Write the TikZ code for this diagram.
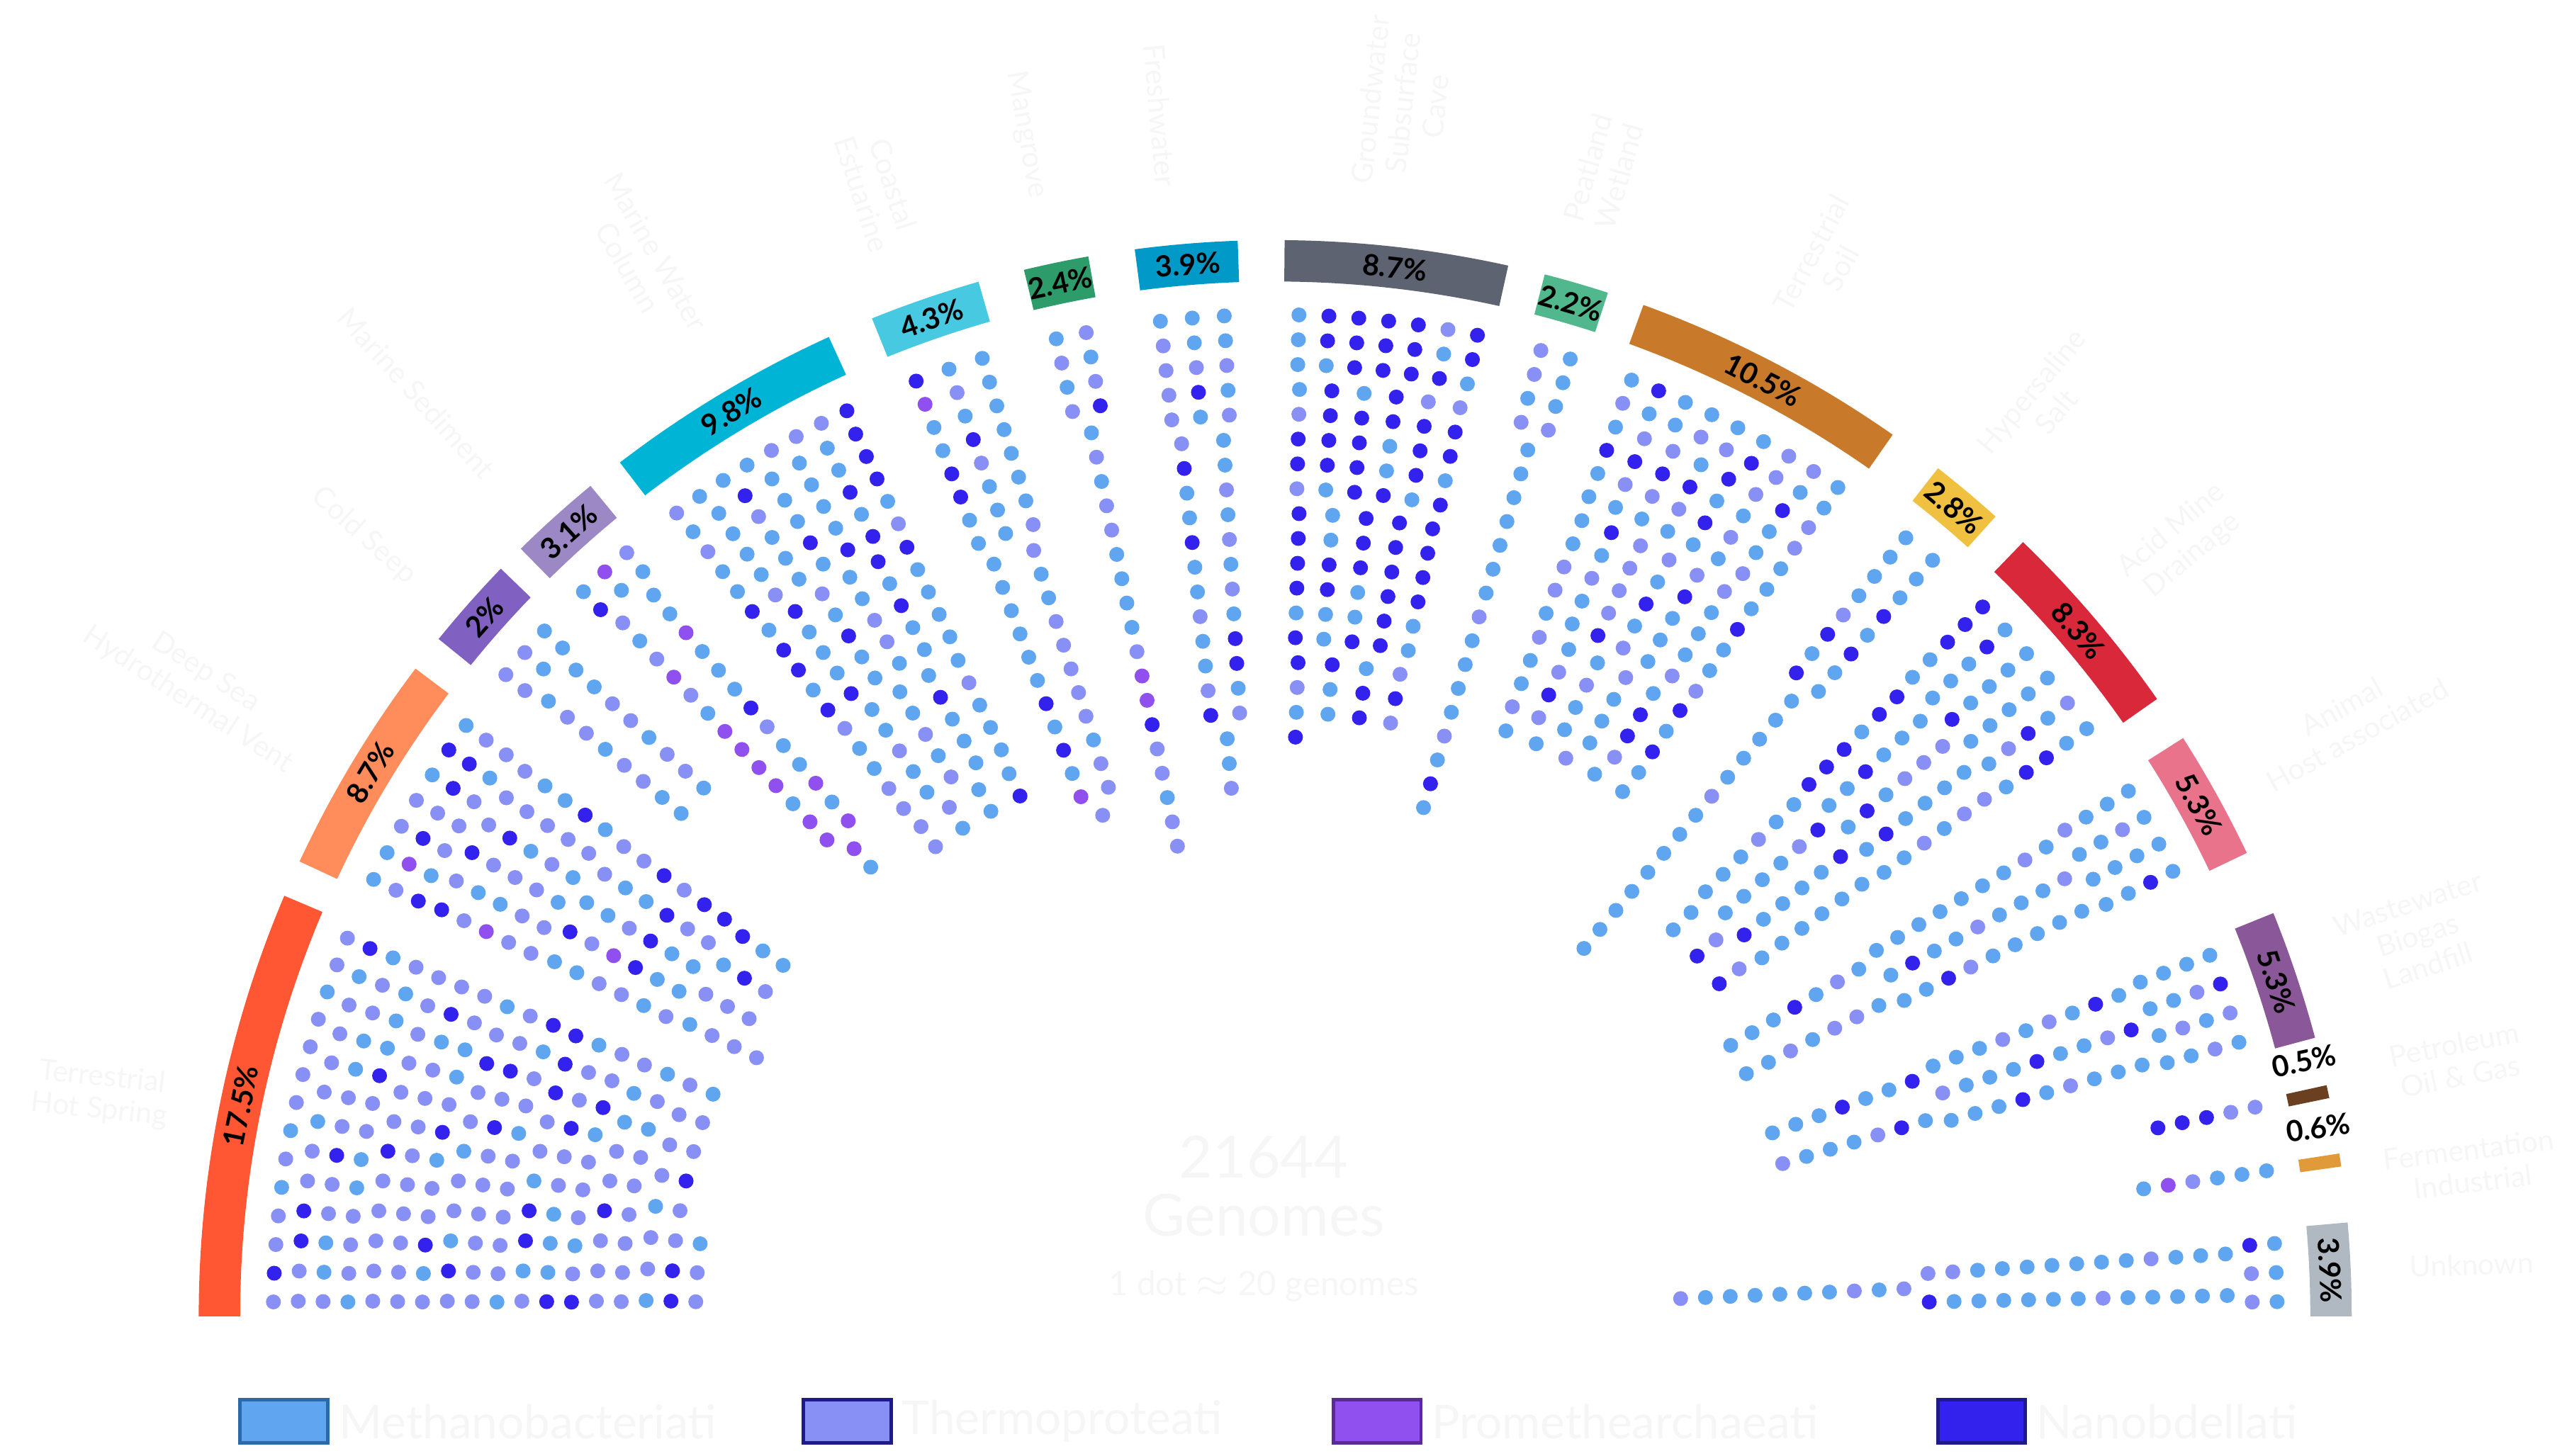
\documentclass[tikz,border=0pt]{standalone}
\usepackage{fontspec}
\setmainfont{Lato}
\usetikzlibrary{positioning}
\definecolor{mbac}{HTML}{60A5F0}
\definecolor{tpro}{HTML}{8890F5}
\definecolor{pmar}{HTML}{9050F0}
\definecolor{nano}{HTML}{3322EE}
\definecolor{mbacEdge}{HTML}{2A6AAA}
\definecolor{tproEdge}{HTML}{1F1A8A}
\definecolor{pmarEdge}{HTML}{5A2A9A}
\definecolor{nanoEdge}{HTML}{1F1A8A}
\definecolor{hotspring}{HTML}{FF5733}
\definecolor{deepsea}{HTML}{FF8C5A}
\definecolor{coldseep}{HTML}{8060C0}
\definecolor{marsed}{HTML}{9C88C4}
\definecolor{marwat}{HTML}{00B4D6}
\definecolor{coastal}{HTML}{48C9E2}
\definecolor{mangrove}{HTML}{2E9C6A}
\definecolor{fresh}{HTML}{0099C8}
\definecolor{ground}{HTML}{5E6372}
\definecolor{peat}{HTML}{50B88C}
\definecolor{soil}{HTML}{C87A2A}
\definecolor{hyper}{HTML}{F0C040}
\definecolor{amd}{HTML}{D8283A}
\definecolor{animal}{HTML}{E8738A}
\definecolor{waste}{HTML}{8A5898}
\definecolor{petro}{HTML}{6A4020}
\definecolor{ferment}{HTML}{E09A3A}
\definecolor{unknown}{HTML}{B0B8C2}
\definecolor{faint}{HTML}{F6F6F6}
\tikzstyle{pctLabel} = [font=\fontsize{5}{6}\selectfont\bfseries, inner sep=0pt]
\tikzstyle{envLabel} = [font=\fontsize{5}{5.6}\selectfont, text=faint, align=center, inner sep=0pt]
\tikzstyle{legendBox} = [minimum width=0.53cm, minimum height=0.26cm, line width=0.6pt]
\tikzstyle{legendText} = [font=\fontsize{8}{9}\selectfont, text=faint, anchor=west, inner sep=0pt]
\newcount\dotsleft

\begin{document}
\begin{tikzpicture}
\useasboundingbox (0,0) rectangle (15.5,8.79);
\pgfmathsetseed{11}
\begin{scope}[shift={(7.7,0.84)}]
\foreach \aa/\ab/\nd/\ca/\cb/\cc/\bcol/\pct [count=\g] in {
  180/157/189/.2/.8/.8/hotspring/17.5,
  155/143/94/.35/.75/.8/deepsea/8.7,
  141/136/22/.5/1/1/coldseep/2,
  134.5/129.5/34/.3/.5/.8/marsed/3.1,
  127.5/114.5/106/.6/.8/.82/marwat/9.8,
  112/106/47/.45/.8/.85/coastal/4.3,
  103.5/100/26/.35/.65/.9/mangrove/2.4,
  97.5/92/42/.5/.8/.82/fresh/3.9,
  89.5/77.5/94/.25/.35/.35/ground/8.7,
  75.5/72/24/.6/.95/.95/peat/2.2,
  70/55/114/.45/.85/.85/soil/10.5,
  52/48/30/.8/.85/.85/hyper/2.8,
  46/35/90/.55/.65/.65/amd/8.3,
  32.5/25.5/57/.75/.95/.95/animal/5.3,
  22/15/57/.7/.85/.85/waste/5.3,
  12.4/11.7/5/0/.6/.6/petro/0.5,
  8.7/8/6/.5/.8/1/ferment/0.6,
  5/0/42/.65/.9/.9/unknown/3.9}{
  % dots, filled row by row from the outside
  \global\dotsleft=\nd\relax
  \foreach \row in {0,...,34}{
    \ifnum\dotsleft>0
      \pgfmathsetmacro\rr{6.05-0.15*\row}
      \pgfmathtruncatemacro\nrow{max(1,floor((\aa-\ab)*pi/180*\rr/0.17))}
      \foreach \k in {1,...,\nrow}{
        \ifnum\dotsleft>0
          \pgfmathsetmacro\ang{\aa-(\aa-\ab)*(\k-0.5)/\nrow}
          \pgfmathsetmacro\u{rnd}
          \pgfmathtruncatemacro\ci{\u<\ca ? 1 : (\u<\cb ? 2 : (\u<\cc ? 3 : 4))}
          \edef\dotcol{\ifcase\ci\or mbac\or tpro\or pmar\else nano\fi}
          \fill[\dotcol] (\ang:\rr) circle (0.045);
          \global\advance\dotsleft by -1
        \fi}
    \fi}
  % bar and its share
  \fill[\bcol] (\aa:6.25) arc[start angle=\aa, end angle=\ab, radius=6.25]
    -- (\ab:6.5) arc[start angle=\ab, end angle=\aa, radius=6.5] -- cycle;
  \pgfmathsetmacro\mid{(\aa+\ab)/2}
  \pgfmathsetmacro\wide{\aa-\ab}
  \ifdim\wide pt<1pt
    \node[pctLabel, rotate=\mid] (pct\g) at (\mid+1.9:6.4) {\pct\%};
  \else
    \node[pctLabel, rotate=\mid-90] (pct\g) at (\mid:6.375) {\pct\%};
  \fi
}
% environments
\node[envLabel, anchor=east, rotate=-6] (hot) at (169:6.8) {Terrestrial\\Hot Spring};
\node[envLabel, anchor=east, rotate=-33] (vent) at (150:6.8) {Deep Sea\\Hydrothermal Vent};
\node[envLabel, anchor=east, rotate=-42] (seep) at (139.5:6.85) {Cold Seep};
\node[envLabel, anchor=east, rotate=-48] (sed) at (133:6.95) {Marine Sediment};
\node[envLabel, anchor=east, rotate=-60] (water) at (121:6.9) {Marine Water\\Column};
\node[envLabel, anchor=east, rotate=-72] (coast) at (109.5:6.85) {Coastal\\Estuarine};
\node[envLabel, anchor=east, rotate=-80] (mangr) at (102:6.9) {Mangrove};
\node[envLabel, anchor=east, rotate=-85] (freshw) at (95.5:6.85) {Freshwater};
\node[envLabel, anchor=west, rotate=84] (groundw) at (84:6.85) {Groundwater\\Subsurface\\Cave};
\node[envLabel, anchor=west, rotate=74] (peatl) at (74:6.85) {Peatland\\Wetland};
\node[envLabel, anchor=west, rotate=62] (soill) at (62.5:6.8) {Terrestrial\\Soil};
\node[envLabel, anchor=west, rotate=50] (hypers) at (50:6.75) {Hypersaline\\Salt};
\node[envLabel, anchor=west, rotate=40] (mine) at (40.5:6.8) {Acid Mine\\Drainage};
\node[envLabel, anchor=west, rotate=29] (host) at (29:6.8) {Animal\\Host associated};
\node[envLabel, anchor=west, rotate=18] (wwater) at (18.5:6.8) {Wastewater\\Biogas\\Landfill};
\node[envLabel, anchor=west, rotate=11] (oil) at (12.3:6.9) {Petroleum\\Oil \& Gas};
\node[envLabel, anchor=west, rotate=7] (ferm) at (7.2:6.75) {Fermentation\\Industrial};
\node[envLabel, anchor=west, rotate=2] (unk) at (2.5:6.85) {Unknown};
\end{scope}
% centre
\node[font=\fontsize{10}{11}\selectfont, text=faint, inner sep=0pt] (total) at (7.63,1.8) {21644};
\node[font=\fontsize{10}{11}\selectfont, text=faint, inner sep=0pt] (genomes) at (7.63,1.45) {Genomes};
\node[font=\fontsize{5.8}{7}\selectfont, text=faint, inner sep=0pt] (scale) at (7.63,1.02) {1 dot $\approx$ 20 genomes};
% legend
\node[legendBox, fill=mbac, draw=mbacEdge] (lgM) at (1.715,0.205) {};
\node[legendText, right=0.05 of lgM] (lgMt) {Methanobacteriati};
\node[legendBox, fill=tpro, draw=tproEdge] (lgT) at (5.115,0.205) {};
\node[legendText, right=0.05 of lgT] (lgTt) {Thermoproteati};
\node[legendBox, fill=pmar, draw=pmarEdge] (lgP) at (8.315,0.205) {};
\node[legendText, right=0.05 of lgP] (lgPt) {Promethearchaeati};
\node[legendBox, fill=nano, draw=nanoEdge] (lgN) at (11.965,0.205) {};
\node[legendText, right=0.05 of lgN] (lgNt) {Nanobdellati};
\end{tikzpicture}
\end{document}
